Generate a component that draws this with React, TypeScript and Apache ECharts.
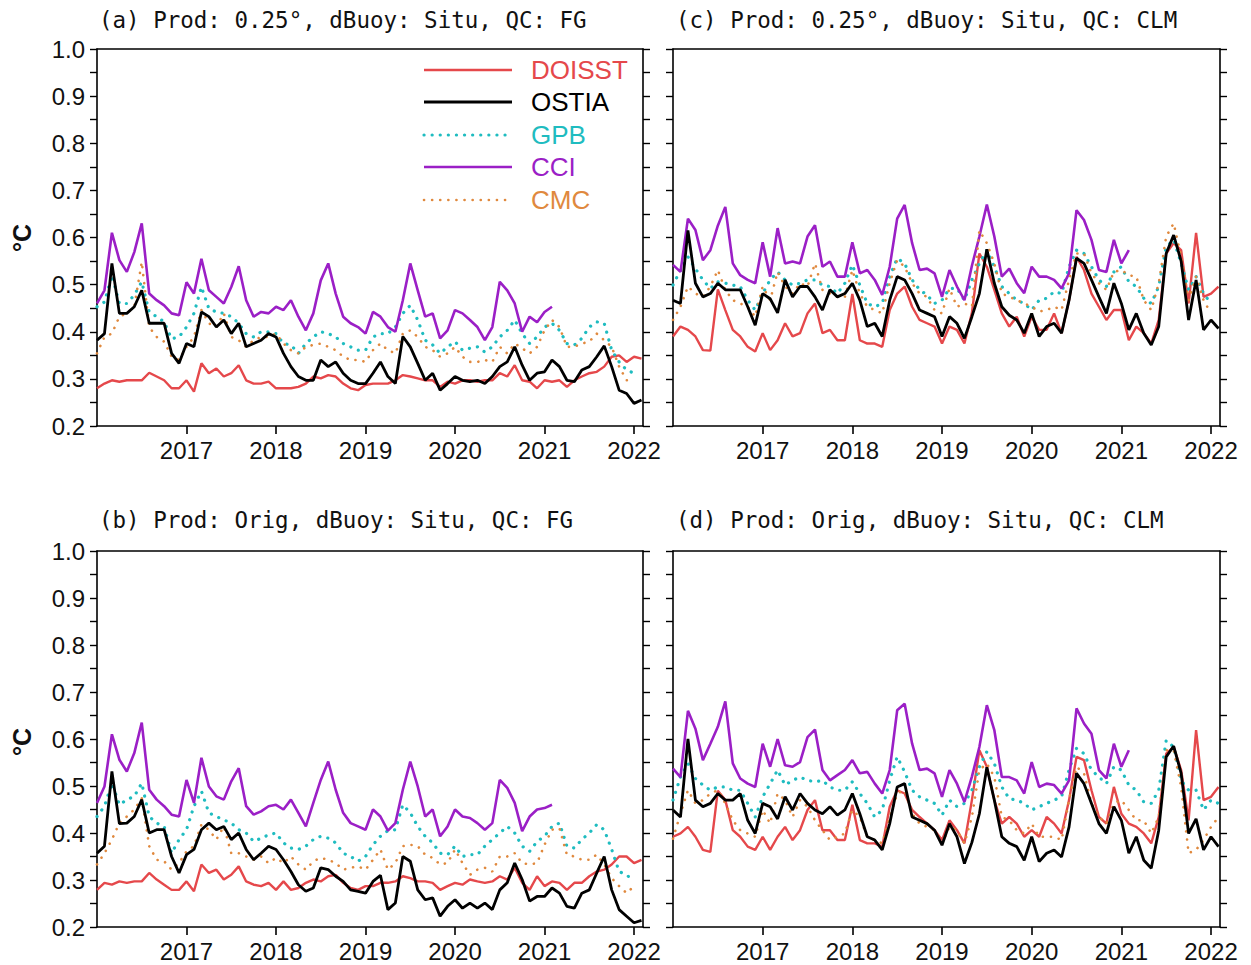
import React, { useEffect, useRef } from "react";
import * as echarts from "echarts";

// time axis: monthly samples starting Jan 2016
const X_START = 2016;
const X_STEP = 1 / 12;
const YEAR_TICKS = [2017, 2018, 2019, 2020, 2021, 2022];

const SERIES_NAMES = ["DOISST", "OSTIA", "GPB", "CCI", "CMC"];
const COLORS = ["#e5484b", "#000000", "#1fbcc0", "#9b1fc6", "#e0893e"];

const TITLES = [
  "(a) Prod: 0.25°, dBuoy: Situ, QC: FG",
  "(b) Prod: Orig, dBuoy: Situ, QC: FG",
  "(c) Prod: 0.25°, dBuoy: Situ, QC: CLM",
  "(d) Prod: Orig, dBuoy: Situ, QC: CLM",
];

// ---- panel (a)
const A_DOISST = [0.28, 0.29, 0.297, 0.294, 0.297, 0.297, 0.297, 0.313, 0.305, 0.297,
  0.28, 0.28, 0.297, 0.273, 0.333, 0.312, 0.322, 0.305, 0.312, 0.329,
  0.297, 0.29, 0.29, 0.294, 0.28, 0.28, 0.28, 0.283, 0.29, 0.305,
  0.301, 0.308, 0.305, 0.29, 0.28, 0.276, 0.287, 0.29, 0.29, 0.29,
  0.297, 0.308, 0.305, 0.301, 0.297, 0.297, 0.283, 0.294, 0.29, 0.297,
  0.297, 0.294, 0.297, 0.297, 0.312, 0.305, 0.329, 0.297, 0.294, 0.28,
  0.297, 0.294, 0.297, 0.283, 0.297, 0.305, 0.312, 0.315, 0.326, 0.347,
  0.35, 0.336, 0.347, 0.343];
const A_OSTIA = [0.382, 0.396, 0.545, 0.439, 0.439, 0.453, 0.488, 0.418, 0.418, 0.418,
  0.354, 0.333, 0.375, 0.368, 0.442, 0.432, 0.41, 0.425, 0.396, 0.418,
  0.368, 0.375, 0.382, 0.396, 0.389, 0.354, 0.326, 0.305, 0.297, 0.297,
  0.34, 0.326, 0.336, 0.312, 0.297, 0.29, 0.29, 0.312, 0.336, 0.305,
  0.29, 0.39, 0.368, 0.333, 0.297, 0.312, 0.276, 0.29, 0.305, 0.297,
  0.294, 0.297, 0.29, 0.305, 0.326, 0.336, 0.368, 0.329, 0.297, 0.312,
  0.315, 0.34, 0.326, 0.297, 0.294, 0.319, 0.326, 0.347, 0.37, 0.326,
  0.276, 0.269, 0.248, 0.255];
const A_GPB = [0.453, 0.463, 0.52, 0.46, 0.46, 0.478, 0.506, 0.442, 0.432, 0.421,
  0.385, 0.389, 0.41, 0.439, 0.495, 0.449, 0.442, 0.439, 0.432, 0.418,
  0.396, 0.389, 0.4, 0.4, 0.396, 0.375, 0.372, 0.354, 0.375, 0.389,
  0.4, 0.396, 0.389, 0.375, 0.368, 0.361, 0.361, 0.389, 0.396, 0.396,
  0.41, 0.439, 0.456, 0.425, 0.382, 0.372, 0.354, 0.368, 0.379, 0.361,
  0.365, 0.368, 0.357, 0.368, 0.389, 0.403, 0.425, 0.396, 0.375, 0.389,
  0.41, 0.418, 0.403, 0.375, 0.372, 0.386, 0.41, 0.421, 0.418, 0.361,
  0.336, 0.319, 0.312];
const A_CCI = [0.46, 0.488, 0.61, 0.552, 0.527, 0.569, 0.63, 0.481, 0.467, 0.456,
  0.439, 0.435, 0.505, 0.481, 0.555, 0.488, 0.474, 0.46, 0.495, 0.539,
  0.467, 0.432, 0.442, 0.439, 0.453, 0.446, 0.467, 0.432, 0.403, 0.439,
  0.509, 0.545, 0.481, 0.432, 0.418, 0.41, 0.396, 0.442, 0.432, 0.41,
  0.4, 0.467, 0.545, 0.488, 0.432, 0.439, 0.386, 0.403, 0.446, 0.439,
  0.425, 0.41, 0.382, 0.41, 0.506, 0.488, 0.46, 0.4, 0.432, 0.42,
  0.442, 0.453];
const A_CMC = [0.354, 0.389, 0.396, 0.432, 0.439, 0.453, 0.548, 0.41, 0.389, 0.379,
  0.347, 0.34, 0.368, 0.389, 0.446, 0.418, 0.41, 0.439, 0.389, 0.382,
  0.368, 0.382, 0.389, 0.389, 0.396, 0.375, 0.361, 0.354, 0.368, 0.372,
  0.375, 0.368, 0.361, 0.347, 0.34, 0.34, 0.336, 0.361, 0.375, 0.361,
  0.354, 0.396, 0.403, 0.389, 0.368, 0.361, 0.347, 0.354, 0.368, 0.347,
  0.336, 0.336, 0.34, 0.336, 0.368, 0.354, 0.375, 0.365, 0.354, 0.368,
  0.403, 0.425, 0.41, 0.368, 0.368, 0.375, 0.379, 0.396, 0.382, 0.368,
  0.326, 0.297, 0.297];

// ---- panel (b)
const B_DOISST = [0.279, 0.294, 0.29, 0.297, 0.294, 0.297, 0.297, 0.315, 0.301, 0.29,
  0.279, 0.279, 0.297, 0.276, 0.333, 0.315, 0.322, 0.301, 0.311, 0.329,
  0.297, 0.29, 0.287, 0.294, 0.279, 0.297, 0.279, 0.283, 0.294, 0.301,
  0.297, 0.308, 0.311, 0.294, 0.283, 0.279, 0.287, 0.287, 0.294, 0.294,
  0.297, 0.308, 0.304, 0.297, 0.297, 0.294, 0.279, 0.287, 0.294, 0.29,
  0.301, 0.297, 0.294, 0.297, 0.308, 0.301, 0.326, 0.294, 0.279, 0.308,
  0.287, 0.297, 0.294, 0.279, 0.294, 0.294, 0.308, 0.318, 0.322, 0.333,
  0.35, 0.35, 0.336, 0.343];
const B_OSTIA = [0.357, 0.372, 0.531, 0.42, 0.421, 0.435, 0.471, 0.4, 0.407, 0.407,
  0.35, 0.315, 0.354, 0.365, 0.407, 0.421, 0.407, 0.414, 0.386, 0.4,
  0.365, 0.343, 0.357, 0.372, 0.365, 0.343, 0.318, 0.29, 0.276, 0.283,
  0.326, 0.322, 0.308, 0.297, 0.279, 0.276, 0.272, 0.297, 0.31, 0.237,
  0.251, 0.35, 0.34, 0.279, 0.258, 0.262, 0.223, 0.244, 0.258, 0.24,
  0.251, 0.24, 0.251, 0.237, 0.279, 0.294, 0.336, 0.301, 0.255, 0.265,
  0.265, 0.283, 0.272, 0.244, 0.24, 0.272, 0.279, 0.315, 0.35, 0.279,
  0.237, 0.223, 0.209, 0.214];
const B_GPB = [0.435, 0.457, 0.506, 0.46, 0.471, 0.478, 0.506, 0.435, 0.421, 0.414,
  0.357, 0.386, 0.407, 0.457, 0.489, 0.443, 0.435, 0.428, 0.421, 0.407,
  0.4, 0.382, 0.389, 0.396, 0.4, 0.379, 0.368, 0.365, 0.372, 0.386,
  0.393, 0.389, 0.379, 0.357, 0.35, 0.34, 0.35, 0.375, 0.393, 0.405,
  0.407, 0.46, 0.443, 0.414, 0.393, 0.379, 0.357, 0.354, 0.372, 0.35,
  0.354, 0.354, 0.372, 0.386, 0.4, 0.414, 0.4, 0.372, 0.361, 0.382,
  0.393, 0.414, 0.421, 0.372, 0.368, 0.386, 0.4, 0.418, 0.407, 0.365,
  0.318, 0.311, 0.297];
const B_CCI = [0.464, 0.499, 0.61, 0.556, 0.531, 0.57, 0.635, 0.492, 0.471, 0.457,
  0.439, 0.435, 0.513, 0.464, 0.56, 0.499, 0.478, 0.471, 0.51, 0.538,
  0.457, 0.439, 0.446, 0.457, 0.46, 0.45, 0.471, 0.443, 0.414, 0.464,
  0.513, 0.552, 0.492, 0.443, 0.421, 0.414, 0.407, 0.45, 0.435, 0.405,
  0.421, 0.492, 0.552, 0.499, 0.435, 0.45, 0.393, 0.414, 0.45, 0.435,
  0.432, 0.421, 0.407, 0.421, 0.513, 0.496, 0.464, 0.404, 0.435, 0.45,
  0.453, 0.46];
const B_CMC = [0.333, 0.357, 0.386, 0.421, 0.435, 0.45, 0.474, 0.372, 0.343, 0.34,
  0.322, 0.336, 0.361, 0.372, 0.418, 0.407, 0.386, 0.414, 0.357, 0.357,
  0.35, 0.343, 0.35, 0.336, 0.347, 0.336, 0.35, 0.333, 0.322, 0.34,
  0.347, 0.343, 0.336, 0.322, 0.326, 0.329, 0.322, 0.343, 0.365, 0.322,
  0.336, 0.372, 0.375, 0.372, 0.354, 0.347, 0.333, 0.336, 0.365, 0.336,
  0.311, 0.322, 0.326, 0.318, 0.35, 0.35, 0.357, 0.336, 0.333, 0.336,
  0.375, 0.407, 0.41, 0.354, 0.35, 0.343, 0.343, 0.354, 0.333, 0.304,
  0.287, 0.272, 0.287];

// ---- panel (c)
const C_DOISST = [0.39, 0.411, 0.404, 0.39, 0.361, 0.36, 0.49, 0.446, 0.404, 0.39,
  0.368, 0.358, 0.397, 0.361, 0.382, 0.418, 0.39, 0.397, 0.439, 0.46,
  0.397, 0.404, 0.382, 0.382, 0.48, 0.382, 0.375, 0.375, 0.368, 0.446,
  0.481, 0.496, 0.453, 0.425, 0.418, 0.411, 0.375, 0.411, 0.404, 0.375,
  0.44, 0.566, 0.538, 0.489, 0.439, 0.411, 0.432, 0.39, 0.432, 0.404,
  0.404, 0.439, 0.397, 0.467, 0.559, 0.531, 0.481, 0.453, 0.425, 0.446,
  0.446, 0.382, 0.411, 0.397, 0.375, 0.425, 0.566, 0.588, 0.573, 0.46,
  0.61, 0.474, 0.481, 0.496];
const C_OSTIA = [0.467, 0.46, 0.615, 0.503, 0.474, 0.481, 0.503, 0.489, 0.489, 0.489,
  0.453, 0.414, 0.481, 0.47, 0.44, 0.51, 0.474, 0.496, 0.496, 0.474,
  0.446, 0.489, 0.474, 0.481, 0.503, 0.467, 0.411, 0.418, 0.39, 0.467,
  0.517, 0.51, 0.481, 0.446, 0.439, 0.432, 0.39, 0.432, 0.418, 0.386,
  0.432, 0.481, 0.575, 0.503, 0.453, 0.435, 0.425, 0.397, 0.439, 0.39,
  0.411, 0.418, 0.397, 0.467, 0.556, 0.545, 0.51, 0.474, 0.439, 0.503,
  0.46, 0.404, 0.439, 0.397, 0.372, 0.411, 0.566, 0.605, 0.55, 0.425,
  0.51, 0.404, 0.425, 0.407];
const C_GPB = [0.499, 0.531, 0.559, 0.534, 0.51, 0.492, 0.506, 0.503, 0.499, 0.496,
  0.467, 0.446, 0.481, 0.51, 0.527, 0.51, 0.499, 0.503, 0.51, 0.51,
  0.499, 0.496, 0.481, 0.503, 0.542, 0.499, 0.46, 0.453, 0.46, 0.517,
  0.556, 0.545, 0.51, 0.489, 0.478, 0.46, 0.467, 0.492, 0.492, 0.467,
  0.51, 0.545, 0.573, 0.538, 0.496, 0.481, 0.467, 0.46, 0.446, 0.467,
  0.471, 0.485, 0.481, 0.538, 0.573, 0.566, 0.538, 0.51, 0.496, 0.527,
  0.538, 0.506, 0.496, 0.471, 0.46, 0.496, 0.58, 0.595, 0.545, 0.489,
  0.517, 0.481, 0.46];
const C_CCI = [0.542, 0.527, 0.64, 0.616, 0.552, 0.573, 0.625, 0.665, 0.545, 0.52,
  0.51, 0.503, 0.59, 0.517, 0.62, 0.545, 0.549, 0.545, 0.602, 0.626,
  0.538, 0.549, 0.517, 0.517, 0.59, 0.524, 0.531, 0.51, 0.478, 0.538,
  0.64, 0.669, 0.588, 0.531, 0.534, 0.524, 0.474, 0.531, 0.496, 0.467,
  0.54, 0.602, 0.67, 0.602, 0.517, 0.534, 0.503, 0.482, 0.538, 0.517,
  0.517, 0.51, 0.492, 0.524, 0.658, 0.637, 0.595, 0.531, 0.527, 0.595,
  0.545, 0.573];
const C_CMC = [0.425, 0.453, 0.496, 0.481, 0.474, 0.496, 0.531, 0.489, 0.467, 0.46,
  0.453, 0.432, 0.496, 0.467, 0.527, 0.496, 0.481, 0.503, 0.496, 0.545,
  0.489, 0.481, 0.474, 0.474, 0.531, 0.481, 0.453, 0.446, 0.439, 0.503,
  0.552, 0.538, 0.503, 0.481, 0.474, 0.446, 0.439, 0.492, 0.453, 0.46,
  0.453, 0.615, 0.588, 0.545, 0.481, 0.474, 0.467, 0.46, 0.453, 0.443,
  0.446, 0.453, 0.446, 0.51, 0.566, 0.566, 0.524, 0.503, 0.489, 0.527,
  0.531, 0.52, 0.517, 0.467, 0.446, 0.503, 0.602, 0.63, 0.559, 0.467,
  0.517, 0.467, 0.439];

// ---- panel (d)
const D_DOISST = [0.392, 0.399, 0.413, 0.392, 0.364, 0.36, 0.49, 0.47, 0.406, 0.392,
  0.371, 0.364, 0.392, 0.364, 0.392, 0.413, 0.385, 0.406, 0.449, 0.47,
  0.406, 0.406, 0.385, 0.385, 0.46, 0.385, 0.378, 0.378, 0.371, 0.456,
  0.491, 0.484, 0.449, 0.434, 0.42, 0.406, 0.385, 0.427, 0.406, 0.378,
  0.47, 0.576, 0.541, 0.47, 0.42, 0.434, 0.42, 0.392, 0.406, 0.392,
  0.434, 0.42, 0.399, 0.47, 0.562, 0.555, 0.491, 0.434, 0.42, 0.498,
  0.441, 0.42, 0.413, 0.399, 0.378, 0.434, 0.569, 0.583, 0.534, 0.427,
  0.619, 0.47, 0.477, 0.498];
const D_OSTIA = [0.449, 0.434, 0.6, 0.47, 0.456, 0.463, 0.484, 0.47, 0.47, 0.484,
  0.427, 0.399, 0.463, 0.456, 0.43, 0.477, 0.449, 0.484, 0.463, 0.449,
  0.441, 0.456, 0.438, 0.449, 0.484, 0.441, 0.392, 0.385, 0.364, 0.42,
  0.498, 0.505, 0.434, 0.427, 0.42, 0.406, 0.374, 0.42, 0.392, 0.335,
  0.38, 0.441, 0.54, 0.47, 0.392, 0.378, 0.371, 0.342, 0.392, 0.339,
  0.357, 0.364, 0.349, 0.413, 0.527, 0.505, 0.463, 0.42, 0.399, 0.456,
  0.427, 0.357, 0.392, 0.342, 0.325, 0.406, 0.562, 0.585, 0.527, 0.399,
  0.43, 0.364, 0.392, 0.371];
const D_GPB = [0.47, 0.519, 0.548, 0.516, 0.502, 0.491, 0.498, 0.498, 0.491, 0.491,
  0.463, 0.434, 0.477, 0.505, 0.534, 0.502, 0.512, 0.519, 0.512, 0.509,
  0.512, 0.498, 0.491, 0.491, 0.509, 0.484, 0.463, 0.434, 0.449, 0.512,
  0.562, 0.53, 0.491, 0.477, 0.47, 0.463, 0.438, 0.47, 0.456, 0.463,
  0.491, 0.541, 0.573, 0.548, 0.498, 0.473, 0.47, 0.463, 0.449, 0.456,
  0.463, 0.47, 0.477, 0.534, 0.58, 0.569, 0.534, 0.519, 0.505, 0.541,
  0.534, 0.502, 0.491, 0.466, 0.463, 0.491, 0.597, 0.583, 0.512, 0.491,
  0.491, 0.449, 0.47, 0.463];
const D_CCI = [0.537, 0.519, 0.66, 0.622, 0.555, 0.59, 0.626, 0.68, 0.548, 0.516,
  0.505, 0.498, 0.59, 0.541, 0.6, 0.544, 0.541, 0.551, 0.604, 0.62,
  0.534, 0.512, 0.523, 0.534, 0.555, 0.527, 0.53, 0.505, 0.484, 0.534,
  0.661, 0.675, 0.59, 0.534, 0.537, 0.527, 0.477, 0.534, 0.505, 0.466,
  0.52, 0.583, 0.672, 0.619, 0.519, 0.519, 0.512, 0.484, 0.551, 0.498,
  0.505, 0.502, 0.484, 0.512, 0.665, 0.633, 0.611, 0.534, 0.516, 0.59,
  0.541, 0.576];
const D_CMC = [0.388, 0.441, 0.491, 0.463, 0.47, 0.484, 0.491, 0.463, 0.427, 0.406,
  0.399, 0.392, 0.449, 0.42, 0.484, 0.47, 0.434, 0.47, 0.456, 0.427,
  0.406, 0.385, 0.392, 0.399, 0.449, 0.434, 0.392, 0.385, 0.378, 0.434,
  0.484, 0.491, 0.441, 0.42, 0.413, 0.406, 0.378, 0.413, 0.406, 0.378,
  0.434, 0.534, 0.548, 0.519, 0.434, 0.427, 0.406, 0.399, 0.42, 0.392,
  0.392, 0.392, 0.385, 0.47, 0.541, 0.527, 0.463, 0.434, 0.42, 0.463,
  0.47, 0.449, 0.427, 0.427, 0.399, 0.434, 0.576, 0.576, 0.498, 0.357,
  0.364, 0.385, 0.413, 0.434];

const PANELS = [
  [A_DOISST, A_OSTIA, A_GPB, A_CCI, A_CMC],
  [B_DOISST, B_OSTIA, B_GPB, B_CCI, B_CMC],
  [C_DOISST, C_OSTIA, C_GPB, C_CCI, C_CMC],
  [D_DOISST, D_OSTIA, D_GPB, D_CCI, D_CMC],
];

// layout (pixels)
const GRIDS = [
  { left: 97, top: 49, width: 546, height: 377 },
  { left: 97, top: 551, width: 546, height: 376 },
  { left: 673, top: 49, width: 547, height: 377 },
  { left: 673, top: 551, width: 547, height: 376 },
];

const LINE_STYLES = [
  { width: 2.4, type: "solid" },
  { width: 2.8, type: "solid" },
  { width: 3.2, type: [0.1, 8], cap: "round" },
  { width: 2.6, type: "solid" },
  { width: 2.6, type: [0.1, 8], cap: "round" },
];

const FONT = "Liberation Sans";

export default function App() {
  const ref = useRef<HTMLDivElement>(null);
  useEffect(() => {
    if (!ref.current) return;
    const chart = echarts.init(ref.current, undefined, { renderer: "svg" });

    const xAxes: any[] = [];
    const yAxes: any[] = [];
    const series: any[] = [];
    const axisLine = { show: true, onZero: false, lineStyle: { color: "#000", width: 1.6 } };

    GRIDS.forEach((g, gi) => {
      const isLeftCol = gi < 2;
      xAxes.push({
        type: "value", gridIndex: gi, position: "bottom", min: 2016, max: 2022.1, interval: 1,
        axisLine,
        axisTick: { show: true, inside: false, length: 8, customValues: YEAR_TICKS, lineStyle: { color: "#000", width: 1.6 } },
        axisLabel: {
          show: true, margin: 12, customValues: YEAR_TICKS, color: "#111", fontFamily: FONT, fontSize: 24,
          formatter: (v: number) => (Number.isInteger(v) && v >= 2017 ? String(v) : ""),
        },
        splitLine: { show: false },
      });
      xAxes.push({
        type: "value", gridIndex: gi, position: "top", min: 2016, max: 2022.1, interval: 1,
        axisLine, axisTick: { show: false }, axisLabel: { show: false }, splitLine: { show: false },
      });
      const yCommon = {
        type: "value", gridIndex: gi, min: 0.2, max: 1.0, interval: 0.1,
        axisLine,
        axisTick: { show: true, inside: false, length: 7, lineStyle: { color: "#000", width: 1.4 } },
        minorTick: { show: true, splitNumber: 2, length: 7, lineStyle: { color: "#000", width: 1.4 } },
        splitLine: { show: false },
        minorSplitLine: { show: false },
      };
      yAxes.push({
        ...yCommon, position: "left",
        axisLabel: {
          show: isLeftCol, margin: 12, color: "#111", fontFamily: FONT, fontSize: 24,
          formatter: (v: number) => v.toFixed(1),
        },
      });
      yAxes.push({ ...yCommon, position: "right", axisLabel: { show: false } });

      PANELS[gi].forEach((vals, si) => {
        series.push({
          type: "line", name: SERIES_NAMES[si],
          xAxisIndex: gi * 2, yAxisIndex: gi * 2,
          data: vals.map((v, i) => [X_START + i * X_STEP, v]),
          showSymbol: false, symbol: "none", smooth: false,
          lineStyle: { color: COLORS[si], ...LINE_STYLES[si] },
          z: si === 1 ? 4 : 3,
          silent: true,
        });
      });
    });

    const graphic: any[] = [];
    const titlePos = [
      { x: 99, y: 20 }, { x: 99, y: 520 }, { x: 676, y: 20 }, { x: 676, y: 520 },
    ];
    TITLES.forEach((t, i) => {
      graphic.push({
        type: "text", x: titlePos[i].x, y: titlePos[i].y,
        style: { text: t, fill: "#111", font: "22.5px 'DejaVu Sans Mono'", align: "left", verticalAlign: "middle" },
      });
    });
    [238, 742].forEach((cy) => {
      graphic.push({
        type: "text", x: 22, y: cy, rotation: Math.PI / 2,
        style: { text: "°C", fill: "#111", font: "bold 25px 'Liberation Sans'", align: "center", verticalAlign: "middle" },
      });
    });
    const legendRows = [70, 102, 135, 167, 200];
    SERIES_NAMES.forEach((n, i) => {
      const ls: any = LINE_STYLES[i];
      graphic.push({
        type: "line", shape: { x1: 424, y1: legendRows[i], x2: 512, y2: legendRows[i] },
        style: {
          stroke: COLORS[i], lineWidth: ls.width,
          lineDash: Array.isArray(ls.type) ? ls.type : null,
          lineCap: ls.cap || "butt",
        },
      });
      graphic.push({
        type: "text", x: 531, y: legendRows[i],
        style: { text: n, fill: COLORS[i], font: `26px '${FONT}'`, align: "left", verticalAlign: "middle" },
      });
    });

    chart.setOption({
      animation: false,
      backgroundColor: "#fff",
      grid: GRIDS.map((g) => ({ ...g, containLabel: false })),
      xAxis: xAxes,
      yAxis: yAxes,
      series,
      graphic,
    });
    return () => chart.dispose();
  }, []);
  return (
    <div
      ref={ref}
      style={{ position: "absolute", left: 0, top: 0, width: 1251, height: 965, background: "#fff" }}
    />
  );
}
